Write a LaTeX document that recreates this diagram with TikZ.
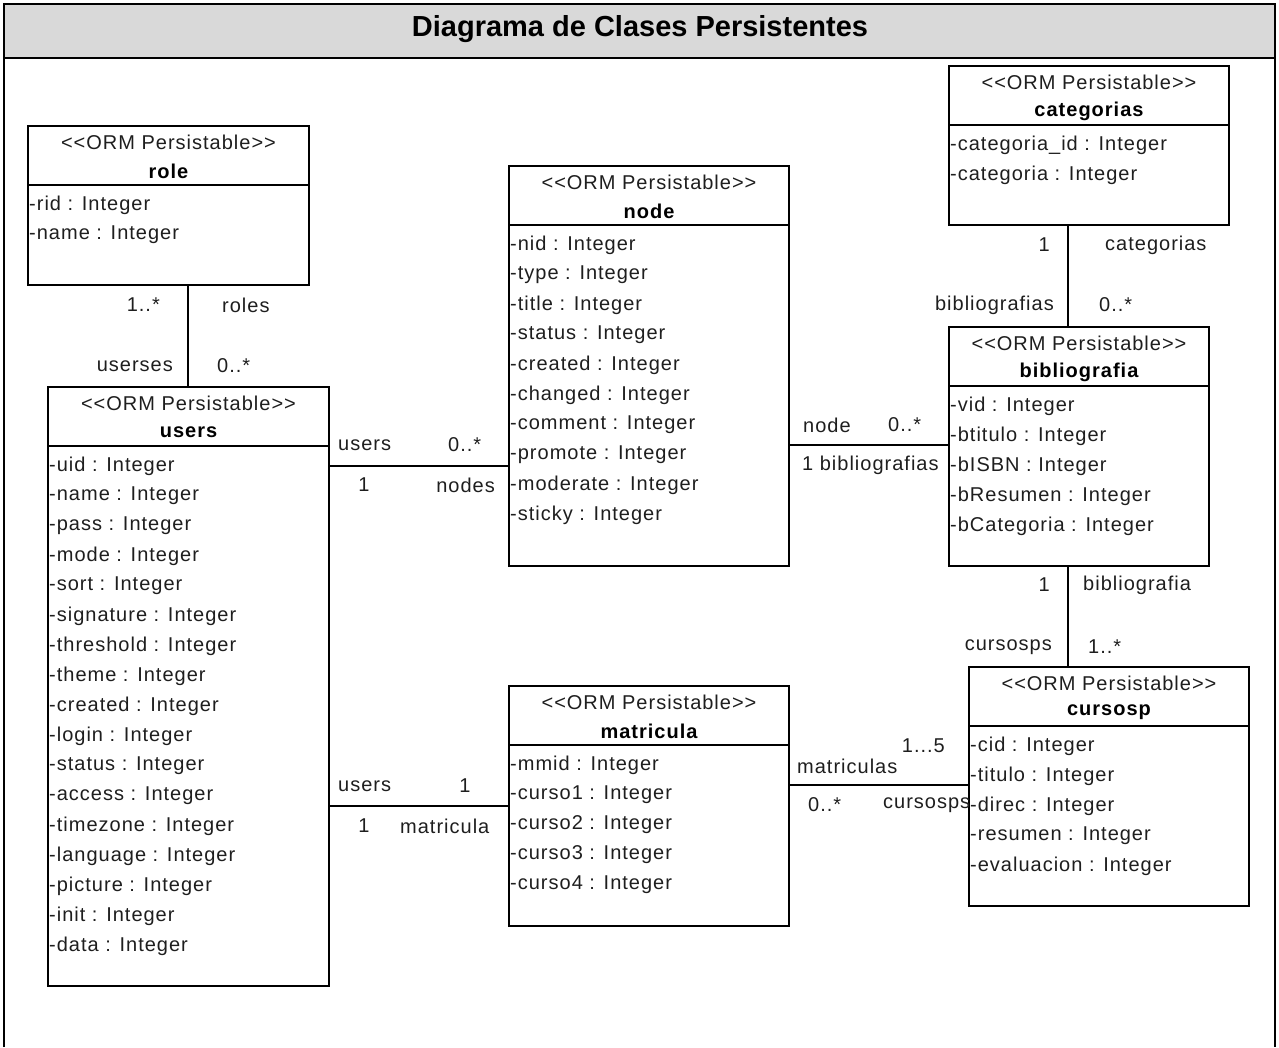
\documentclass[tikz,border=0pt]{standalone}
\usepackage{fontspec}
\setmainfont{Liberation Sans}
\newfontfamily\umlfont[LetterSpace=5]{Liberation Sans}
\usetikzlibrary{calc}

\definecolor{titlegray}{RGB}{217,217,217}
\definecolor{inkgray}{RGB}{30,30,30}

\tikzset{
  framerule/.style={line width=2.4pt, draw=black},
  classbox/.style={draw=black, line width=2pt, fill=white, inner sep=0pt, anchor=north west},
  sepline/.style={line width=2pt},
  link/.style={line width=2pt},
  umltext/.style={inner sep=0pt, text=inkgray, font=\umlfont\fontsize{20}{24}\selectfont},
  attr/.style={umltext, anchor=west},
  stereo/.style={umltext},
  cname/.style={inner sep=0pt, text=black, font=\umlfont\bfseries\fontsize{20}{24}\selectfont},
  lblw/.style={umltext, anchor=west},
  lble/.style={umltext, anchor=east},
  headline/.style={inner sep=0pt, font=\bfseries\fontsize{29}{34}\selectfont},
}

% #1 node name, #2 x, #3 y (top-left), #4 width, #5 height, #6 class name, #7 attributes
\newcommand\umlclass[7]{%
  \node[classbox, minimum width=#4pt, minimum height=#5pt] (#1) at (#2,#3) {};
  \draw[sepline] ([yshift=-60pt]#1.north west) -- ([yshift=-60pt]#1.north east);
  \node[stereo] (#1-st) at ([yshift=-17pt]#1.north) {<<ORM Persistable>>};
  \node[cname] (#1-nm) at ([yshift=-46pt]#1.north) {#6};
  \foreach \a [count=\i] in {#7} {
    \node[attr] (#1-a\i) at ([xshift=2pt, yshift={-(50+30*\i)*1pt}]#1.north west) {\a};
  }%
}

\begin{document}
\begin{tikzpicture}[x=1pt, y=-1pt]
\useasboundingbox (0,0) rectangle (1279,1047);

% outer frame and title band
\fill[titlegray] (4,4) rectangle (1275,58);
\draw[framerule] (4,1047) -- (4,4) -- (1275,4) -- (1275,1047);
\draw[framerule] (4,58) -- (1275,58);
\node[headline] (title) at (640,29) {Diagrama de Clases Persistentes};

% classes
\umlclass{role}{27}{125}{281}{159}{role}{-rid : Integer, -name : Integer}
\umlclass{users}{47}{386}{281}{599}{users}{-uid : Integer, -name : Integer, -pass : Integer, -mode : Integer, -sort : Integer, -signature : Integer, -threshold : Integer, -theme : Integer, -created : Integer, -login : Integer, -status : Integer, -access : Integer, -timezone : Integer, -language : Integer, -picture : Integer, -init : Integer, -data : Integer}
\umlclass{node}{508}{165}{280}{400}{node}{-nid : Integer, -type : Integer, -title : Integer, -status : Integer, -created : Integer, -changed : Integer, -comment : Integer, -promote : Integer, -moderate : Integer, -sticky : Integer}
\umlclass{categorias}{948}{65}{280}{159}{categorias}{-categoria\_id : Integer, -categoria : Integer}
\umlclass{bibliografia}{948}{326}{260}{239}{bibliografia}{-vid : Integer, -btitulo : Integer, -bISBN : Integer, -bResumen : Integer, -bCategoria : Integer}
\umlclass{matricula}{508}{685}{280}{240}{matricula}{-mmid : Integer, -curso1 : Integer, -curso2 : Integer, -curso3 : Integer, -curso4 : Integer}
\umlclass{cursosp}{968}{666}{280}{239}{cursosp}{-cid : Integer, -titulo : Integer, -direc : Integer, -resumen : Integer, -evaluacion : Integer}

% guide coordinates for the associations
\coordinate (xrole) at (188,0);
\coordinate (xbib) at (1068,0);
\coordinate (ynode) at (0,466);
\coordinate (ymat) at (0,806);
\coordinate (ybib) at (0,445);
\coordinate (ycur) at (0,785);

% associations
\draw[link] (role.south -| xrole) -- (users.north -| xrole);
\draw[link] (users.east |- ynode) -- (node.west |- ynode);
\draw[link] (users.east |- ymat) -- (matricula.west |- ymat);
\draw[link] (node.east |- ybib) -- (bibliografia.west |- ybib);
\draw[link] (categorias.south -| xbib) -- (bibliografia.north -| xbib);
\draw[link] (bibliografia.south -| xbib) -- (cursosp.north -| xbib);
\draw[link] (matricula.east |- ycur) -- (cursosp.west |- ycur);

% role - users
\node[lble] (l-ru1) at (160,305) {1..*};
\node[lblw] (l-ru2) at (222,305) {roles};
\node[lble] (l-ru3) at (173,366) {userses};
\node[lblw] (l-ru4) at (217,366) {0..*};

% users - node
\node[lblw] (l-un1) at (338,445) {users};
\node[lblw] (l-un2) at (448,445) {0..*};
\node[umltext] (l-un3) at (364,485) {1};
\node[lble] (l-un4) at (495,485) {nodes};

% users - matricula
\node[lblw] (l-um1) at (338,786) {users};
\node[umltext] (l-um2) at (465,786) {1};
\node[umltext] (l-um3) at (364,826) {1};
\node[lblw] (l-um4) at (400,826) {matricula};

% node - bibliografia
\node[lblw] (l-nb1) at (803,425) {node};
\node[lblw] (l-nb2) at (888,425) {0..*};
\node[lblw] (l-nb3) at (802,465) {1 bibliografias};

% categorias - bibliografia
\node[lble] (l-cb1) at (1050,245) {1};
\node[lblw] (l-cb2) at (1105,245) {categorias};
\node[lble] (l-cb3) at (1054,305) {bibliografias};
\node[lblw] (l-cb4) at (1099,305) {0..*};

% bibliografia - cursosp
\node[lble] (l-bc1) at (1050,585) {1};
\node[lblw] (l-bc2) at (1083,585) {bibliografia};
\node[lble] (l-bc3) at (1052,647) {cursosps};
\node[lblw] (l-bc4) at (1088,647) {1..*};

% matricula - cursosp
\node[lble] (l-mc1) at (945,746) {1...5};
\node[lblw] (l-mc2) at (797,766) {matriculas};
\node[lblw] (l-mc3) at (808,805) {0..*};
\node[lblw] (l-mc4) at (883,805) {cursosps};
\end{tikzpicture}
\end{document}
